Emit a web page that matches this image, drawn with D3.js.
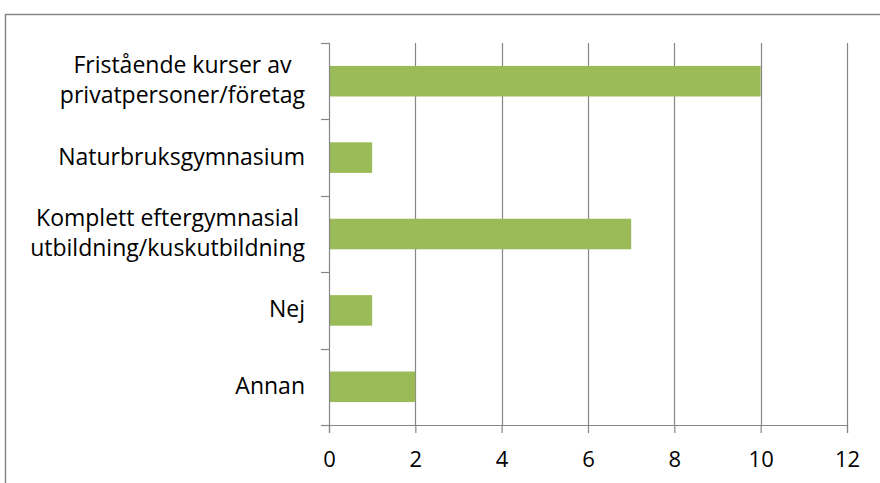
<!DOCTYPE html>
<html lang="sv">
<head>
    <meta charset="UTF-8">
    <title>Utbildning</title>
    <script src="https://d3js.org/d3.v7.min.js"></script>
    <style>
        body { margin: 0; background: #fff; }
        svg text { font-family: "Open Sans", Lato, sans-serif; fill: #000; }
    </style>
</head>
<body>
    <div id="chart"></div>
    <script>
        // Chart data
        const categories = [
            ["Fristående kurser av", "privatpersoner/företag"],
            ["Naturbruksgymnasium"],
            ["Komplett eftergymnasial", "utbildning/kuskutbildning"],
            ["Nej"],
            ["Annan"]
        ];
        const values = [10, 1, 7, 1, 2];
        const xTicks = [0, 2, 4, 6, 8, 10, 12];

        const W = 880, H = 483;
        const margin = {top: 43, right: 33, bottom: 58, left: 329};
        const width = W - margin.left - margin.right,
              height = H - margin.top - margin.bottom;
        const fontSize = 23, tickFont = 22;

        const svg = d3.select("#chart")
          .append("svg")
            .attr("width", W)
            .attr("height", H);

        // outer chart frame (runs past the window edge)
        svg.append("rect")
            .attr("x", 5.5).attr("y", 14.5)
            .attr("width", W + 10).attr("height", H + 10)
            .attr("fill", "none")
            .attr("stroke", "#868686")
            .attr("stroke-width", 1.5);

        const g = svg.append("g")
            .attr("transform", `translate(${margin.left},${margin.top})`);

        const x = d3.scaleLinear()
            .domain([0, 12])
            .range([0, width]);

        const idx = categories.map((d, i) => i);
        const y = d3.scaleBand()
            .domain(idx)
            .range([0, height])
            .padding(0);

        // vertical gridlines
        g.selectAll(".grid")
            .data(xTicks.slice(1))
            .enter().append("line")
            .attr("class", "grid")
            .attr("x1", d => Math.round(x(d)) + 0.5)
            .attr("x2", d => Math.round(x(d)) + 0.5)
            .attr("y1", 0)
            .attr("y2", height)
            .attr("stroke", "#868686")
            .attr("stroke-width", 1.2);

        // bars
        const barH = y.bandwidth() * 0.4;
        g.selectAll(".bar")
            .data(values)
            .enter().append("rect")
            .attr("class", "bar")
            .attr("x", x(0))
            .attr("y", (d, i) => y(i) + (y.bandwidth() - barH) / 2)
            .attr("width", d => x(d) - x(0))
            .attr("height", barH)
            .attr("fill", "#9bbb59");

        // X axis
        const xAxis = g.append("g")
            .attr("transform", `translate(0,${height})`)
            .call(d3.axisBottom(x).tickValues(xTicks).tickSize(8).tickPadding(18));
        xAxis.select(".domain").attr("stroke", "#868686").attr("stroke-width", 1.2);
        xAxis.selectAll(".tick line").attr("stroke", "#868686").attr("stroke-width", 1.2);
        xAxis.selectAll("text")
            .style("font-size", tickFont + "px")
            .attr("fill", "#000");

        // Y axis: ticks at category boundaries
        const yEdges = idx.map(i => y(i)).concat([height]);
        g.append("line")
            .attr("x1", 0.5).attr("x2", 0.5)
            .attr("y1", 0).attr("y2", height)
            .attr("stroke", "#868686").attr("stroke-width", 1.2);
        g.selectAll(".ytick")
            .data(yEdges)
            .enter().append("line")
            .attr("class", "ytick")
            .attr("x1", -8).attr("x2", 0.5)
            .attr("y1", d => Math.round(d) + 0.5)
            .attr("y2", d => Math.round(d) + 0.5)
            .attr("stroke", "#868686").attr("stroke-width", 1.2);

        // category labels, multi-line centered block, right edge aligned
        const lineH = 30;
        const labels = g.selectAll(".ylabel")
            .data(categories)
            .enter().append("text")
            .attr("class", "ylabel")
            .style("font-size", fontSize + "px")
            .attr("y", (d, i) => y(i) + y.bandwidth() / 2);

        labels.each(function(lines) {
            const t = d3.select(this);
            const tspans = lines.map((s, k) => t.append("tspan")
                .attr("text-anchor", "middle")
                .attr("dy", k === 0 ? (0.3 * fontSize - (lines.length - 1) * lineH / 2) : lineH)
                .text(s));
            // block width = widest line; center lines within block ending at -24
            const widths = tspans.map(ts => ts.node().getComputedTextLength());
            const maxW = d3.max(widths);
            const cx = -24 - maxW / 2;
            tspans.forEach(ts => ts.attr("x", cx));
        });
    </script>
</body>
</html>
